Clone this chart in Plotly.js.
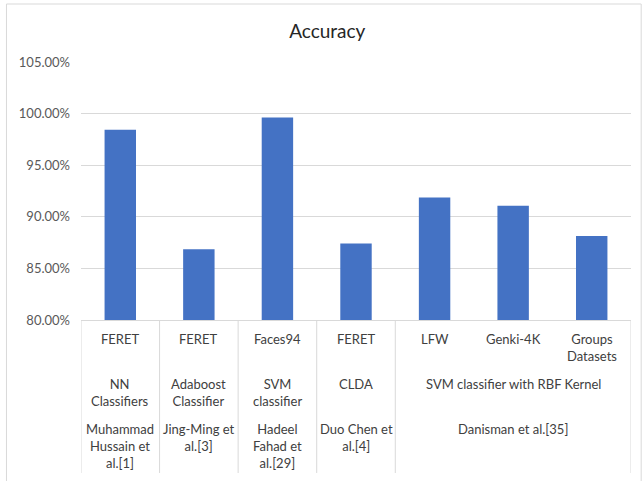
<!DOCTYPE html>
<html>
<head>
<meta charset="utf-8">
<script src="https://cdn.plot.ly/plotly-3.0.1.min.js"></script>
<style>
html,body{margin:0;padding:0;background:#fff;}
#chart{width:643px;height:481px;}
</style>
</head>
<body>
<div id="chart"></div>
<script>
// ---- data ----
const datasets = ["FERET", "FERET", "Faces94", "FERET", "LFW", "Genki-4K", "Groups<br>Datasets"];
const accuracy = [0.9843, 0.8686, 0.9963, 0.8741, 0.9187, 0.9106, 0.8815];
const classifiers = ["NN<br>Classifiers", "Adaboost<br>Classifier", "SVM<br>classifier", "CLDA", "SVM classifier with RBF Kernel"];
const classifierSpans = [1, 1, 1, 1, 3];
const authors = ["Muhammad<br>Hussain et<br>al.[1]", "Jing-Ming et<br>al.[3]", "Hadeel<br>Fahad et<br>al.[29]", "Duo Chen et<br>al.[4]", "Danisman et al.[35]"];
const authorSpans = [1, 1, 1, 1, 3];
const yTicks = [0.80, 0.85, 0.90, 0.95, 1.00, 1.05];
const chartTitle = "Accuracy";

// unique category keys for the bars
const barKeys = datasets.map((d, i) => i + ":" + d);

const FONT = "Lato, 'Open Sans', sans-serif";
const TXT = "#404040";

const annotations = [];
// level 1: dataset labels
datasets.forEach((d, i) => {
  annotations.push({
    text: d, x: i, xref: "x", y: 0, yref: "paper", yanchor: "top", xanchor: "center",
    yshift: -9, showarrow: false, font: {family: FONT, size: 13, color: TXT}
  });
});
// groups (level 2 and 3) + dividers
const shapes = [];
let start = 0;
classifierSpans.forEach((span, g) => {
  const center = start + (span - 1) / 2;
  annotations.push({
    text: classifiers[g], x: center, xref: "x", y: 0, yref: "paper", yanchor: "top", xanchor: "center",
    yshift: -54, showarrow: false, font: {family: FONT, size: 13, color: TXT}
  });
  annotations.push({
    text: authors[g], x: center, xref: "x", y: 0, yref: "paper", yanchor: "top", xanchor: "center",
    yshift: -99, showarrow: false, font: {family: FONT, size: 13, color: TXT}
  });
  shapes.push({type: "line", xref: "x", yref: "paper", x0: start - 0.5, x1: start - 0.5,
    y0: 0, y1: -0.593, line: {color: "#d9d9d9", width: 1}});
  start += span;
});
shapes.push({type: "line", xref: "x", yref: "paper", x0: start - 0.5, x1: start - 0.5,
  y0: 0, y1: -0.593, line: {color: "#d9d9d9", width: 1}});
// chart-area border
shapes.push({type: "rect", xref: "paper", yref: "paper", x0: -0.1355, x1: 1.0185, y0: -0.7, y1: 1.2248,
  line: {color: "#d9d9d9", width: 1}, fillcolor: "rgba(0,0,0,0)", layer: "below"});

const trace = {
  type: "bar",
  x: barKeys,
  y: accuracy,
  marker: {color: "#4472C4"},
  hoverinfo: "y"
};

const layout = {
  width: 643, height: 481,
  margin: {l: 81, r: 12, t: 62, b: 161},
  paper_bgcolor: "#fff", plot_bgcolor: "#fff",
  title: {text: chartTitle, font: {family: FONT, size: 19, color: "#262626"},
    x: 0.509, xref: "container", xanchor: "center", y: 1 - 31.7 / 481, yref: "container", yanchor: "middle"},
  bargap: 0.6,
  showlegend: false,
  xaxis: {type: "category", showticklabels: false, showgrid: false, zeroline: false,
    showline: true, linecolor: "#d9d9d9", linewidth: 1, ticks: "", range: [-0.5, 6.5]},
  yaxis: {range: [0.80, 1.05], tickvals: yTicks, tickformat: ".2%", showgrid: true, gridcolor: "#d9d9d9",
    gridwidth: 1, zeroline: false, showline: false, ticks: "", ticklabelstandoff: 10,
    tickfont: {family: FONT, size: 13, color: "#595959"}},
  annotations: annotations,
  shapes: shapes
};

Plotly.newPlot("chart", [trace], layout, {displayModeBar: false, staticPlot: true});
</script>
</body>
</html>
